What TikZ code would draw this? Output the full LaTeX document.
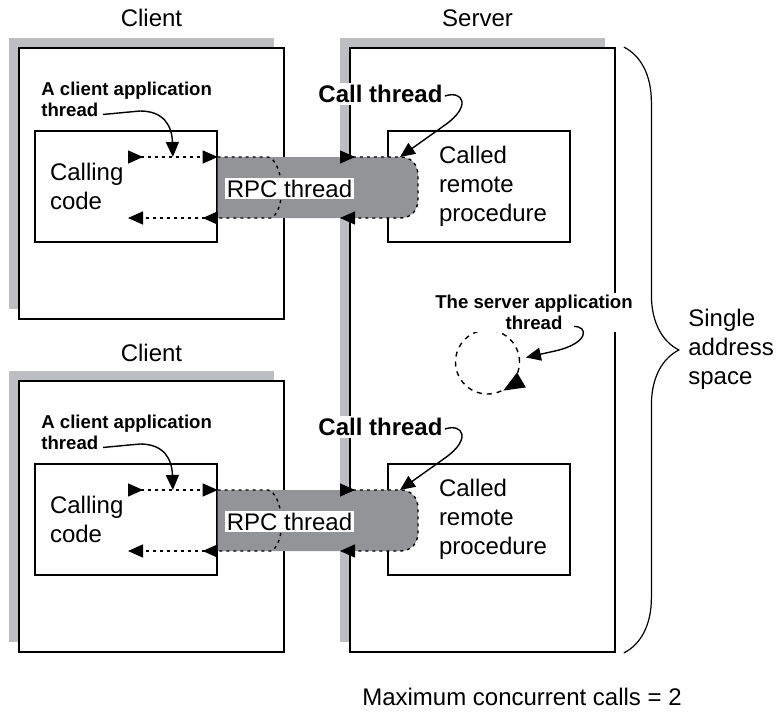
\documentclass[tikz,border=0pt]{standalone}
\usepackage{fontspec}
\setmainfont{Liberation Sans}
\usetikzlibrary{positioning, arrows.meta, shadows, calc, decorations.pathreplacing}

\definecolor{shadowgray}{RGB}{189,190,193}
\definecolor{bandgray}{RGB}{147,148,151}

\begin{document}
\begin{tikzpicture}[
  x=0.5pt, y=-0.5pt,
  hostbox/.style={draw, line width=0.9pt, fill=white, minimum width=132.5pt,
    general shadow={fill=shadowgray, shadow xshift=-5pt, shadow yshift=5pt}},
  codebox/.style={draw, line width=0.7pt, fill=white, minimum width=91pt, minimum height=55.5pt,
    align=left, font=\fontsize{12}{14.5}\selectfont},
  title/.style={font=\fontsize{12}{14.5}\selectfont, inner sep=0pt},
  note/.style={font=\bfseries\fontsize{9.3}{10.5}\selectfont, fill=white, inner sep=1pt},
  callnote/.style={font=\bfseries\fontsize{12}{14}\selectfont, fill=white, inner sep=1pt},
  rpclabel/.style={fill=white, inner sep=1pt, font=\fontsize{12}{14}\selectfont},
  band/.style={fill=bandgray},
  flow/.style={line width=0.7pt, dash pattern=on 1.5pt off 2pt},
  flowtips/.style={flow, {Triangle[reversed, length=7.5pt, width=6.5pt]}-{Triangle[length=7.5pt, width=6.5pt]}},
  pointer/.style={line width=0.7pt, -{Triangle[length=7.5pt, width=6.5pt]}},
  loopnode/.style={circle, draw, line width=0.7pt, dash pattern=on 2.5pt off 2.5pt, minimum size=32pt, inner sep=0pt},
  looptip/.style={line width=0.7pt, -{Triangle[length=10.5pt, width=8.5pt]}},
  brace/.style={line width=0.6pt, decorate, decoration={brace, amplitude=27.5pt}}
]
  \useasboundingbox (0,0) rectangle (778,712);

  % Hosts (clients and server) with their shadows
  \node[hostbox, minimum height=135.5pt] (client1) at (151.5,183.5) {};
  \node[hostbox, minimum height=135.5pt] (client2) at (151.5,516.5) {};
  \node[hostbox, minimum height=302pt] (server) at (482.5,350) {};
  \node[title, above=10pt of client1] (client1title) {Client};
  \node[title, above=9pt of client2] (client2title) {Client};
  \node[title, above=10pt of server, xshift=-2.5pt] (servertitle) {Server};

  % Calling code and called procedures
  \node[codebox, text width=76pt] (calling1) at (126,186.5) {Calling\\code};
  \node[codebox, text width=76pt] (calling2) at (126,519.5) {Calling\\code};
  \node[codebox, text width=40pt] (called1) at (479,186.5) {Called\\remote\\\mbox{procedure}};
  \node[codebox, text width=40pt] (called2) at (479,519.5) {Called\\remote\\\mbox{procedure}};

  % Thread end points
  \coordinate (cin1) at (128,157);
  \coordinate (cout1) at (128,218);
  \coordinate (cgo1) at (calling1.east |- cin1);
  \coordinate (cback1) at (calling1.east |- cout1);
  \coordinate (sin1) at (340,157);
  \coordinate (sout1) at (340,218);
  \coordinate (send1) at (400,157);
  \coordinate (cin2) at (128,490);
  \coordinate (cout2) at (128,551);
  \coordinate (cgo2) at (calling2.east |- cin2);
  \coordinate (cback2) at (calling2.east |- cout2);
  \coordinate (sin2) at (340,490);
  \coordinate (sout2) at (340,551);
  \coordinate (send2) at (400,490);

  % RPC thread 1
  \fill[band] (cgo1) -- (send1) .. controls (411,157) and (418,164) .. (418,176) -- (418,199)
    .. controls (418,211) and (411,218) .. (400,218) -- (cback1) -- cycle;
  \draw[flowtips] (sin1) -- (send1) .. controls (411,157) and (418,164) .. (418,176) -- (418,199)
    .. controls (418,211) and (411,218) .. (400,218) -- (sout1);
  \draw[flowtips] (cin1) -- (cgo1);
  \draw[flow] (cgo1) -- (268,157) .. controls (282,160) and (288,205) .. (272,218) -- (cback1);
  \draw[flowtips] (cback1) -- (cout1);
  \node[rpclabel] (rpc1) at (289.5,188.5) {RPC thread};

  % RPC thread 2
  \fill[band] (cgo2) -- (send2) .. controls (411,490) and (418,497) .. (418,509) -- (418,532)
    .. controls (418,544) and (411,551) .. (400,551) -- (cback2) -- cycle;
  \draw[flowtips] (sin2) -- (send2) .. controls (411,490) and (418,497) .. (418,509) -- (418,532)
    .. controls (418,544) and (411,551) .. (400,551) -- (sout2);
  \draw[flowtips] (cin2) -- (cgo2);
  \draw[flow] (cgo2) -- (268,490) .. controls (282,493) and (288,538) .. (272,551) -- (cback2);
  \draw[flowtips] (cback2) -- (cout2);
  \node[rpclabel] (rpc2) at (289.5,521.5) {RPC thread};

  % Client application threads
  \node[note, anchor=north west, align=left] (capp1) at (39,80) {A client application\\thread};
  \draw[pointer] ([xshift=32pt,yshift=2.5pt]capp1.south west) -- (140,111)
    .. controls (164,111) and (172,126) .. ($(cin1)!0.5!(cgo1)$);
  \node[note, anchor=north west, align=left] (capp2) at (39,413) {A client application\\thread};
  \draw[pointer] ([xshift=32pt,yshift=2.5pt]capp2.south west) -- (140,444)
    .. controls (164,444) and (172,459) .. ($(cin2)!0.5!(cgo2)$);

  % Call threads
  \node[callnote] (call1) at (380.5,94) {Call thread};
  \draw[pointer] ([yshift=-1pt]call1.east) .. controls (463,90) and (472,106) .. (445,125) -- (send1);
  \node[callnote] (call2) at (380.5,427) {Call thread};
  \draw[pointer] ([yshift=-1pt]call2.east) .. controls (463,423) and (472,439) .. (445,458) -- (send2);

  % Server application thread
  \node[loopnode] (loop) at (487.5,362) {};
  \draw[looptip] (loop.-22) to[bend left=18] (loop.-61);
  \node[note, align=center, anchor=north] (sapp) at (534,293) {The server application\\thread};
  \draw[pointer] ([xshift=20pt,yshift=3pt]sapp.south) .. controls (588,326) and (590,343) .. (555,351)
    -- ([xshift=3pt]loop.8);

  % Address space
  \draw[brace] ([xshift=4pt]server.north east) -- ([xshift=4pt]server.south east);
  \node[title, align=left, anchor=west] (space) at (688,349) {Single\\address\\space};

  \node[title] (maxcalls) at (522,697) {Maximum concurrent calls = 2};
\end{tikzpicture}
\end{document}
